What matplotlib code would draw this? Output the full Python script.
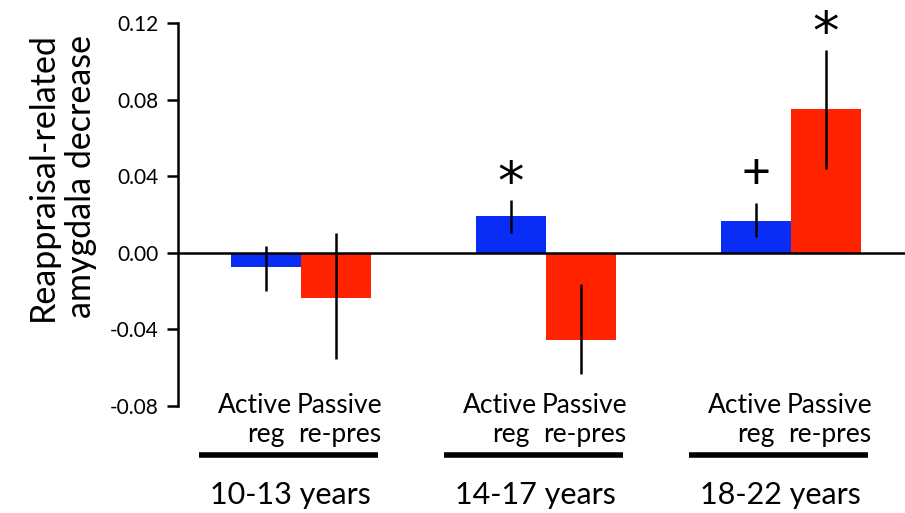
import numpy as np
import matplotlib.pyplot as plt

# values
groups = ["10-13 years", "14-17 years", "18-22 years"]
active = [-0.0073, 0.0190, 0.0166]
passive = [-0.0234, -0.0456, 0.0750]
active_err_lo = [0.0125, 0.0084, 0.0085]
active_err_hi = [0.0110, 0.0084, 0.0093]
passive_err_lo = [0.0320, 0.0178, 0.0310]
passive_err_hi = [0.0340, 0.0293, 0.0310]
marks_active = ["", "*", "+"]
marks_passive = ["", "", "*"]

plt.rcParams['font.family'] = ['Lato', 'DejaVu Sans']

fig = plt.figure(figsize=(9.05, 5.13), dpi=100)
ax = fig.add_axes([178/905, 1-406/513, 1-178/905, (406-23)/513])

x = np.arange(3) * 3.5
blue = "#0a2df5"
red = "#ff2300"

ax.bar(x, active, width=1, color=blue, align="center", zorder=2)
ax.bar(x + 1, passive, width=1, color=red, align="center", zorder=2)
ax.errorbar(x, active, yerr=[active_err_lo, active_err_hi], fmt="none",
            ecolor="black", elinewidth=1.8, capsize=0, zorder=3)
ax.errorbar(x + 1, passive, yerr=[passive_err_lo, passive_err_hi], fmt="none",
            ecolor="black", elinewidth=1.8, capsize=0, zorder=3)
ax.axhline(0, color="black", lw=1.8, zorder=4)


def mark(xpos, top, s):
    # star / plus sits a little above the error bar
    if s == "*":
        ax.text(xpos, top + 0.0005, s, ha="center", va="baseline",
                fontsize=38, family="DejaVu Sans")
    else:
        ax.text(xpos, top + 0.003, s, ha="center", va="bottom", fontsize=36)


for i in range(3):
    if marks_active[i]:
        mark(x[i], active[i] + active_err_hi[i], marks_active[i])
    if marks_passive[i]:
        mark(x[i] + 1, passive[i] + passive_err_hi[i], marks_passive[i])

ax.set_xlim(-1.257, 9.13)
ax.set_ylim(-0.08, 0.12)
ax.set_yticks([-0.08, -0.04, 0.0, 0.04, 0.08, 0.12])
ax.set_yticklabels(["-0.08", "-0.04", "0.00", "0.04", "0.08", "0.12"])
ax.tick_params(axis="y", direction="out", length=8, width=1.8, labelsize=15, pad=6)
ax.set_xticks([])
for s in ["top", "right", "bottom"]:
    ax.spines[s].set_visible(False)
ax.spines["left"].set_linewidth(1.8)

ax.set_ylabel("Reappraisal-related\namygdala decrease", fontsize=24.5, linespacing=1.25)
ax.yaxis.set_label_coords(-0.111, 0.60)

# labels below the axis
for i in range(3):
    ax.text(x[i] - 0.15, -0.0798, "Active", ha="center", va="center", fontsize=19, clip_on=False)
    ax.text(x[i] + 1.05, -0.0798, "Passive", ha="center", va="center", fontsize=19, clip_on=False)
    ax.text(x[i], -0.0948, "reg", ha="center", va="center", fontsize=19, clip_on=False)
    ax.text(x[i] + 1.05, -0.0948, "re-pres", ha="center", va="center", fontsize=19, clip_on=False)
    ax.plot([x[i] - 0.95, x[i] + 1.6], [-0.1055, -0.1055], color="black", lw=4,
            clip_on=False, solid_capstyle="butt")
    ax.text(x[i] + 0.35, -0.1265, groups[i], ha="center", va="center", fontsize=22, clip_on=False)

fig.savefig("out.png", dpi=100)
